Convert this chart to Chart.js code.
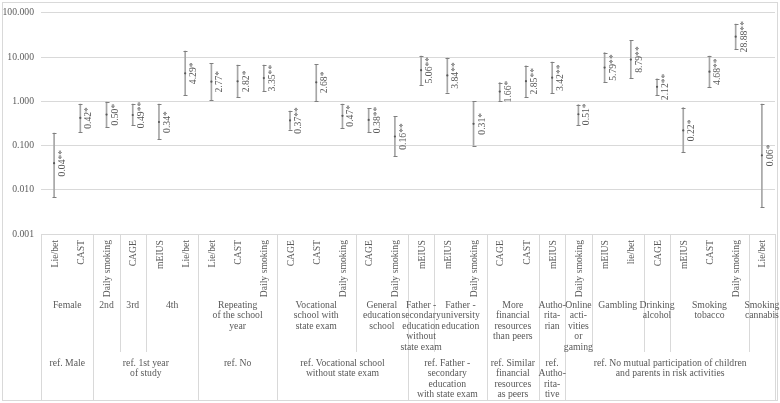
<!DOCTYPE html>
<html>
<head>
<meta charset="utf-8">
<script src="https://cdn.jsdelivr.net/npm/chart.js@4/dist/chart.umd.min.js"></script>
<style>
  html, body { margin: 0; padding: 0; background: #fff; }
  #wrap { width: 780px; height: 403px; position: relative; }
</style>
</head>
<body>
<div id="wrap"><canvas id="chart"></canvas></div>
<script>
// measure on each category (level 1 of the axis)
const measures = [
  "Lie/bet", "CAST", "Daily smoking", "CAGE", "mEIUS", "Lie/bet", "Lie/bet", "CAST", "Daily smoking",
  "CAGE", "CAST", "Daily smoking", "CAGE", "Daily smoking", "mEIUS", "mEIUS", "Daily smoking",
  "CAGE", "CAST", "mEIUS", "Daily smoking", "mEIUS", "lie/bet", "CAGE", "mEIUS", "CAST",
  "Daily smoking", "Lie/bet"
];
const oddsRatios = [0.04, 0.42, 0.50, 0.49, 0.34, 4.29, 2.77, 2.82, 3.35, 0.37, 2.68, 0.47, 0.38, 0.16,
  5.06, 3.84, 0.31, 1.66, 2.85, 3.42, 0.51, 5.79, 8.79, 2.12, 0.22, 4.68, 28.88, 0.06];
const stars = ["**", "*", "*", "**", "*", "*", "*", "*", "**", "**", "*", "*", "**", "**",
  "**", "**", "*", "*", "**", "**", "*", "**", "**", "**", "*", "**", "**", "*"];
const lowerCI = [0.007, 0.20, 0.26, 0.29, 0.14, 1.36, 1.05, 1.25, 1.72, 0.23, 1.03, 0.25, 0.20, 0.057,
  2.39, 1.58, 0.10, 1.03, 1.27, 1.55, 0.29, 2.68, 3.3, 1.38, 0.07, 2.15, 15.3, 0.004];
const upperCI = [0.19, 0.86, 0.96, 0.86, 0.86, 13.6, 7.2, 6.6, 6.6, 0.60, 6.85, 0.86, 0.69, 0.46,
  10.5, 9.5, 1.0, 2.64, 6.3, 7.74, 0.84, 12.6, 23.9, 3.24, 0.72, 10.5, 55.8, 0.86];

// level 2: predictor categories (lines, number of measures)
const groupLabels = [
  ["Female"], ["2nd"], ["3rd"], ["4th"], ["Repeating", "of the school", "year"],
  ["Vocational", "school with", "state exam"], ["General", "education", "school"],
  ["Father -", "secondary", "education", "without", "state exam"], ["Father -", "university", "education"],
  ["More", "financial", "resources", "than peers"], ["Autho-", "rita-", "rian"],
  ["Online", "acti-", "vities", "or", "gaming"], ["Gambling"], ["Drinking", "alcohol"],
  ["Smoking", "tobacco"], ["Smoking", "cannabis"]
];
const groupSizes = [2, 1, 1, 2, 3, 3, 2, 1, 2, 2, 1, 1, 2, 1, 3, 1];

// level 3: reference categories
const refLabels = [
  ["ref. Male"], ["ref. 1st year", "of study"], ["ref. No"],
  ["ref. Vocational school", "without state exam"],
  ["ref. Father -", "secondary", "education", "with state exam"],
  ["ref. Similar", "financial", "resources", "as peers"],
  ["ref.", "Autho-", "rita-", "tive"],
  ["ref. No mutual participation of children", "and parents in risk activities"]
];
const refSizes = [2, 4, 3, 5, 3, 2, 1, 8];

const yTicks = [0.001, 0.01, 0.1, 1, 10, 100];

const FONT = "'Liberation Serif', 'Times New Roman', serif";
const TEXT = "#595959";
const LINE = "#d9d9d9";

function bounds(sizes) {
  const out = [0];
  sizes.forEach(s => out.push(out[out.length - 1] + s));
  return out;
}

const errorBarPlugin = {
  id: "errorBars",
  afterDatasetsDraw(chart) {
    const { ctx, scales: { x, y } } = chart;
    ctx.save();
    ctx.strokeStyle = "#7f7f7f";
    ctx.lineWidth = 1;
    oddsRatios.forEach((v, i) => {
      const px = Math.round(x.getPixelForValue(i)) + 0.5;
      [lowerCI[i], upperCI[i]].forEach(b => {
        const py = Math.round(y.getPixelForValue(b)) + 0.5;
        ctx.beginPath();
        ctx.moveTo(px - 2, py);
        ctx.lineTo(px + 2, py);
        ctx.stroke();
      });
      ctx.save();
      ctx.translate(px + 7.5, y.getPixelForValue(v));
      ctx.rotate(-Math.PI / 2);
      ctx.font = "9.7px " + FONT;
      ctx.fillStyle = TEXT;
      ctx.textAlign = "center";
      ctx.textBaseline = "middle";
      ctx.fillText(v.toFixed(2) + stars[i], 0, 0);
      ctx.restore();
    });
    ctx.restore();
  },
  afterDraw(chart) {
    const { ctx, chartArea, scales: { x } } = chart;
    const n = measures.length;
    const w = (x.right - x.left) / n;
    const bx = k => x.left + k * w;
    const top = chartArea.bottom;
    ctx.save();
    ctx.font = "9.7px " + FONT;
    ctx.fillStyle = TEXT;
    ctx.strokeStyle = LINE;
    ctx.lineWidth = 1;

    // outer border
    ctx.strokeRect(2.5, 2.5, 775, 398);

    // level 1 labels (rotated)
    measures.forEach((m, i) => {
      ctx.save();
      ctx.translate(x.getPixelForValue(i) + 1, top + 6);
      ctx.rotate(-Math.PI / 2);
      ctx.textAlign = "right";
      ctx.textBaseline = "middle";
      ctx.fillText(m, 0, 0);
      ctx.restore();
    });

    const gb = bounds(groupSizes);
    const rb = bounds(refSizes);
    ctx.textAlign = "center";
    ctx.textBaseline = "middle";

    // dividers
    gb.forEach(k => {
      const px = Math.round(bx(k)) + 0.5;
      const full = rb.includes(k);
      ctx.beginPath();
      ctx.moveTo(px, top);
      ctx.lineTo(px, full ? 400 : 352);
      ctx.stroke();
    });

    // level 2 labels
    groupLabels.forEach((lines, g) => {
      const cx = (bx(gb[g]) + bx(gb[g + 1])) / 2;
      lines.forEach((t, j) => ctx.fillText(t, cx, 305 + j * 10.6));
    });

    // level 3 labels
    refLabels.forEach((lines, g) => {
      const cx = (bx(rb[g]) + bx(rb[g + 1])) / 2;
      lines.forEach((t, j) => ctx.fillText(t, cx, 363 + j * 10.6));
    });
    ctx.restore();
  }
};

const ctx = document.getElementById("chart").getContext("2d");
new Chart(ctx, {
  data: {
    labels: measures,
    datasets: [
      {
        type: "bar",
        data: lowerCI.map((lo, i) => [lo, upperCI[i]]),
        backgroundColor: "#a6a6a6",
        borderWidth: 0,
        barThickness: 1,
        order: 2,
      },
      {
        type: "line",
        data: oddsRatios,
        showLine: false,
        pointRadius: 1.1,
        pointBackgroundColor: "#595959",
        pointBorderWidth: 0,
        order: 1,
      },
    ],
  },
  options: {
    responsive: true,
    maintainAspectRatio: false,
    animation: false,
    layout: { padding: { top: 9, right: 5, bottom: 169, left: 0 } },
    plugins: {
      legend: { display: false },
      tooltip: { enabled: false },
    },
    scales: {
      x: { display: false, offset: true },
      y: {
        type: "logarithmic",
        min: 0.001,
        max: 100,
        afterBuildTicks: s => { s.ticks = yTicks.map(v => ({ value: v })); },
        afterFit: s => { s.width = 41; },
        ticks: {
          callback: v => Number(v).toFixed(3),
          color: TEXT,
          font: { family: FONT, size: 9.7 },
          padding: 7,
        },
        grid: { color: LINE, drawTicks: false },
        border: { display: false },
      },
    },
  },
  plugins: [errorBarPlugin],
});
</script>
</body>
</html>
